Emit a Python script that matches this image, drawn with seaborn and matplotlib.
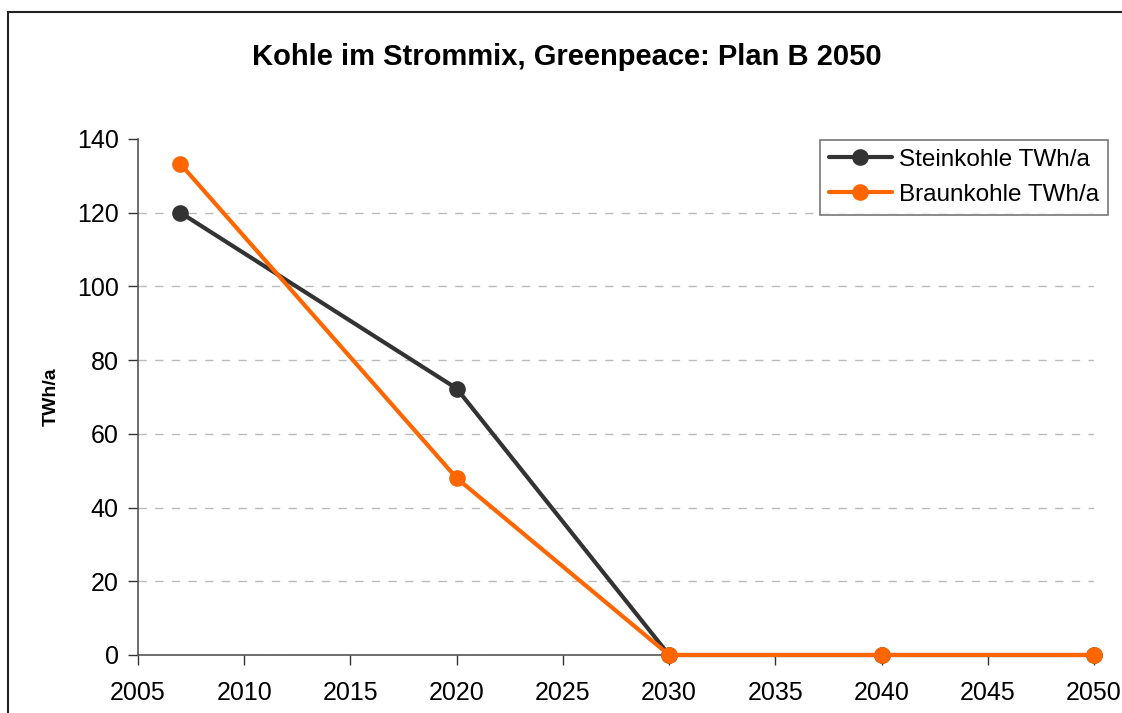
import matplotlib
matplotlib.use('Agg')
import matplotlib.pyplot as plt
import seaborn as sns
import pandas as pd
from matplotlib.patches import Rectangle

years = [2007, 2020, 2030, 2040, 2050]
steinkohle = [120, 72.3, 0, 0, 0]
braunkohle = [133.2, 48, 0, 0, 0]
series_names = ['Steinkohle TWh/a', 'Braunkohle TWh/a']
colors = ['#333333', '#ff6600']

df = pd.DataFrame({'Jahr': years * 2,
                   'Wert': steinkohle + braunkohle,
                   'Serie': [series_names[0]] * len(years) + [series_names[1]] * len(years)})

sns.set_style('white')
plt.rcParams['font.family'] = ['Liberation Sans', 'DejaVu Sans']
plt.rcParams['text.color'] = 'black'

fig = plt.figure(figsize=(11.22, 7.13), dpi=100)
ax = fig.add_axes([138 / 1122, 1 - 655 / 713, (1094 - 138) / 1122, (655 - 139) / 713])

sns.lineplot(data=df, x='Jahr', y='Wert', hue='Serie', palette=colors,
             marker='o', markersize=12, markeredgewidth=0, linewidth=3,
             ax=ax, clip_on=False, zorder=3)

ax.set_xlim(2005, 2050)
ax.set_ylim(0, 140)
ax.set_xticks(range(2005, 2051, 5))
ax.set_yticks(range(0, 141, 20))
ax.tick_params(axis='both', labelsize=18, length=7, width=1, colors='#333333',
               labelcolor='black', direction='out', bottom=True, left=True)
ax.tick_params(axis='x', pad=12)
ax.tick_params(axis='y', pad=7)
ax.yaxis.grid(True, linestyle=(0, (6, 6)), color='#bbbbbb', linewidth=1)
ax.yaxis.get_gridlines()[-1].set_visible(False)
ax.set_axisbelow(True)
for s in ['top', 'right']:
    ax.spines[s].set_visible(False)
for s in ['left', 'bottom']:
    ax.spines[s].set_color('#555555')
    ax.spines[s].set_linewidth(1.2)

ax.set_xlabel('')
ax.set_ylabel('TWh/a', fontsize=14, fontweight='bold', labelpad=12, color='black')

fig.suptitle('Kohle im Strommix, Greenpeace: Plan B 2050', x=0.505, y=0.94,
             fontsize=21, fontweight='bold', color='black')

leg = ax.legend(loc='upper right', bbox_to_anchor=(1.022, 1.012), fontsize=17.5,
                frameon=True, fancybox=False, edgecolor='#555555',
                handlelength=2.6, borderpad=0.35, labelspacing=0.55,
                handletextpad=0.3, borderaxespad=0.3)
leg.get_frame().set_linewidth(1.2)
for t in leg.get_texts():
    t.set_color('black')
for h in leg.legend_handles:
    h.set_markersize(12)

fig.patches.append(Rectangle((8 / 1122, -0.1), 1.2, 1 - 12 / 713 + 0.1,
                             transform=fig.transFigure, fill=False,
                             edgecolor='#222222', linewidth=1.5))

fig.savefig('out.png', dpi=100)
